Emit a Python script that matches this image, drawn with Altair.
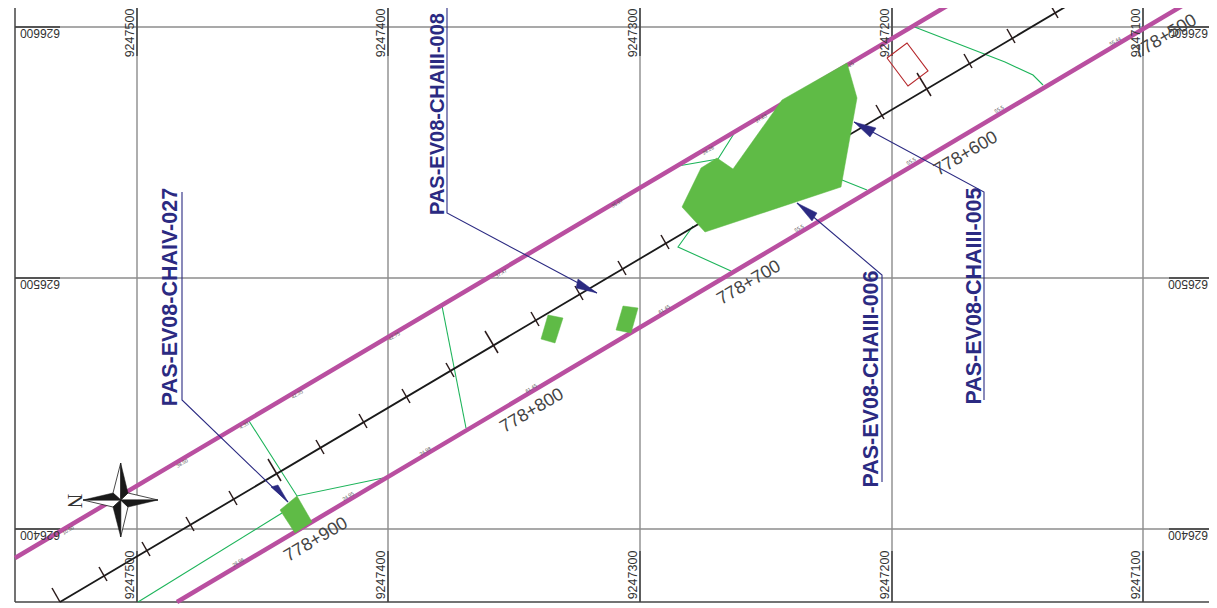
import altair as alt
import pandas as pd

W, H = 1201, 596
xs = alt.Scale(domain=[8, 8 + W], nice=False, zero=False)
ys = alt.Scale(domain=[8 + H, 8], nice=False, zero=False)

GRID_X = [137, 388, 640, 892, 1143]
GRID_Y = [27, 278, 529]
EASTING = ["9247500", "9247400", "9247300", "9247200", "9247100"]
NORTHING = ["626600", "626500", "626400"]

ROAD_UPPER = [(15, 558), (957, 0)]
ROAD_LOWER = [(177, 602), (1192, 0)]
CENTER = [(60, 602), (1077, 0)]

TICKS = [
    (52, 588, 60, 602), (99, 567, 107, 581), (142, 542, 150, 556), (186, 517, 194, 531),
    (229, 491, 237, 505), (268, 459, 281, 481), (316, 440, 324, 454), (359, 414, 367, 428),
    (402, 389, 410, 403), (446, 363, 454, 377), (485, 331, 498, 353), (531, 312, 539, 326),
    (575, 286, 583, 300), (618, 261, 626, 275), (661, 235, 669, 249), (876, 105, 884, 119),
    (917, 73, 931, 96), (964, 54, 972, 68), (1007, 29, 1015, 43), (1050, 4, 1058, 18),
]

BIG_GREEN = [(847, 63), (857, 98), (841, 187), (705, 232), (682, 207), (701, 168),
             (717, 158), (733, 169), (782, 100)]
GREEN_A = [(280, 510), (297, 496), (312, 522), (295, 533)]
GREEN_B = [(548, 315), (563, 318), (555, 343), (541, 339)]
GREEN_C = [(623, 306), (638, 308), (631, 333), (616, 330)]
RED_BOX = [(887, 58), (907, 43), (928, 71), (908, 86)]

THIN_GREEN = [
    [(249, 421), (297, 496), (383, 478)],
    [(282, 513), (138, 602)],
    [(442, 306), (466, 428)],
    [(678, 166), (718, 159), (735, 132)],
    [(693, 226), (678, 247), (731, 271)],
    [(842, 180), (867, 190)],
    [(912, 26), (1005, 62), (1033, 75), (1043, 85)],
]

LEADERS = [
    [(182, 192), (182, 400), (288, 502)],
    [(447, 8), (447, 213), (597, 293)],
    [(882, 482), (882, 275), (797, 203)],
    [(984, 400), (984, 192), (854, 122)],
]
ARROWS = [
    [(288, 502), (271, 487), (278, 485)],
    [(597, 293), (578, 279), (576, 288)],
    [(797, 203), (817, 213), (812, 221)],
    [(854, 122), (876, 128), (870, 137)],
]
CALLOUTS = [
    ("PAS-EV08-CHAIV-027", 171, 297),
    ("PAS-EV08-CHAIII-006", 872, 379),
    ("PAS-EV08-CHAIII-005", 975, 296),
]
CALLOUTS_TOP = [("PAS-EV08-CHAIII-008", 438, 114)]
CHAINAGES = [
    ("778+500", 1165, 37), ("778+600", 966, 154), ("778+700", 749, 283),
    ("778+800", 532, 411), ("778+900", 316, 540),
]
EDGE_NOTES = [
    ("10.50", 68, 530), ("38.50", 182, 463), ("4.33", 244, 425), ("42.35", 297, 394),
    ("42.75", 394, 336), ("37.47", 501, 273), ("35.97", 617, 203), ("28.26", 708, 150),
    ("27.63", 761, 118), ("25", 851, 64), ("28.96", 238, 562), ("24.95", 348, 496),
    ("24.98", 425, 451), ("61.45", 531, 388), ("61.45", 664, 309), ("55.5", 799, 228),
    ("55.5", 911, 161), ("55.5", 999, 109), ("55.44", 1115, 41),
]

STAR_BLACK = [
    [(120.7, 463), (120.7, 500), (128, 493)],
    [(158, 500), (120.7, 500), (128, 507)],
    [(120.7, 537), (120.7, 500), (113, 507)],
    [(83, 500), (120.7, 500), (113, 493)],
]
STAR_WHITE = [
    [(120.7, 463), (120.7, 500), (113, 493)],
    [(158, 500), (120.7, 500), (128, 493)],
    [(120.7, 537), (120.7, 500), (128, 507)],
    [(83, 500), (120.7, 500), (113, 507)],
]

COLOR_ROAD = "#B94FA0"
COLOR_GREEN = "#5FBB46"
COLOR_THIN = "#1DB45A"
COLOR_NAVY = "#2B2A82"
COLOR_GRID = "#8C8C8C"
COLOR_DARK = "#3A3A3A"


def frame(points):
    return pd.DataFrame({"x": [p[0] for p in points], "y": [p[1] for p in points],
                         "o": list(range(len(points)))})


def path(points, color, width, fill=None, closed=False):
    pts = list(points) + ([points[0]] if closed else [])
    kw = {"fill": fill} if fill else {}
    return alt.Chart(frame(pts)).mark_line(
        color=color, stroke=color, strokeWidth=width, clip=True, **kw
    ).encode(
        x=alt.X("x:Q", scale=xs, axis=None),
        y=alt.Y("y:Q", scale=ys, axis=None),
        order="o:Q",
    )


def segments(rows, color, width):
    df = pd.DataFrame(rows, columns=["x", "y", "x2", "y2"])
    return alt.Chart(df).mark_rule(color=color, strokeWidth=width, clip=True).encode(
        x=alt.X("x:Q", scale=xs, axis=None),
        y=alt.Y("y:Q", scale=ys, axis=None),
        x2="x2:Q",
        y2="y2:Q",
    )


def texts(rows, angle, size, color, font="Liberation Sans", weight="normal"):
    df = pd.DataFrame(rows, columns=["t", "x", "y"])
    return alt.Chart(df).mark_text(
        angle=angle, fontSize=size, color=color, font=font, fontWeight=weight,
        align="center", baseline="middle",
    ).encode(
        x=alt.X("x:Q", scale=xs, axis=None),
        y=alt.Y("y:Q", scale=ys, axis=None),
        text="t:N",
    )


layers = []
# grid
layers.append(segments([(gx, 8, gx, 602) for gx in GRID_X], COLOR_GRID, 1.4))
layers.append(segments([(15, gy, 1225, gy) for gy in GRID_Y], COLOR_GRID, 1.4))
# dark label stubs
layers.append(segments([(gx, 8, gx, 56) for gx in GRID_X] + [(gx, 551, gx, 602) for gx in GRID_X],
                       COLOR_DARK, 1.4))
layers.append(segments([(15, gy, 60, gy) for gy in GRID_Y] + [(1169, gy, 1225, gy) for gy in GRID_Y],
                       COLOR_DARK, 1.4))
# frame
layers.append(segments([(15, 8, 15, 602), (15, 602, 1225, 602)], "#444444", 1.5))
# thin lines
for line in THIN_GREEN:
    layers.append(path(line, COLOR_THIN, 1.1))
# road and centre line
layers.append(path(ROAD_UPPER, COLOR_ROAD, 4.5))
layers.append(path(ROAD_LOWER, COLOR_ROAD, 4.5))
layers.append(path(CENTER, "#1A1A1A", 1.8))
layers.append(segments(TICKS, "#2A1A1A", 1.5))
# areas
for poly in (BIG_GREEN, GREEN_A, GREEN_B, GREEN_C):
    layers.append(path(poly, COLOR_GREEN, 0.5, fill=COLOR_GREEN, closed=True))
layers.append(path(RED_BOX, "#B5272B", 1.1, closed=True))
# leaders
for line in LEADERS:
    layers.append(path(line, COLOR_NAVY, 1.1))
for tri in ARROWS:
    layers.append(path(tri, COLOR_NAVY, 0.5, fill=COLOR_NAVY, closed=True))
# compass
for tri in STAR_WHITE:
    layers.append(path(tri, "#1A1A1A", 0.8, fill="#FFFFFF", closed=True))
for tri in STAR_BLACK:
    layers.append(path(tri, "#1A1A1A", 0.5, fill="#1A1A1A", closed=True))
layers.append(texts([("N", 74, 501)], 90, 20, "#333333", font="Liberation Serif"))
# text
layers.append(texts([(e, gx - 7, 33) for e, gx in zip(EASTING, GRID_X)], 270, 12.5, "#333333"))
layers.append(texts([(e, gx - 7, 575) for e, gx in zip(EASTING, GRID_X)], 270, 12.5, "#333333"))
layers.append(texts([(n, 40, gy + 6) for n, gy in zip(NORTHING, GRID_Y)], 180, 12, "#333333"))
layers.append(texts([(n, 1188, gy + 6) for n, gy in zip(NORTHING, GRID_Y)], 180, 12, "#333333"))
layers.append(texts(CALLOUTS, 270, 21.5, COLOR_NAVY, weight="bold"))
layers.append(texts(CALLOUTS_TOP, 270, 20, COLOR_NAVY, weight="bold"))
layers.append(texts(CHAINAGES, 329.4, 18, "#444444"))
layers.append(texts(EDGE_NOTES, 329.4, 5, "#555555"))

chart = alt.layer(*layers).properties(
    width=W, height=H, padding=0,
    autosize=alt.AutoSizeParams(type="none"),
).configure_view(stroke=None)

chart.save("out.html", embed_options={"renderer": "svg", "actions": False})
